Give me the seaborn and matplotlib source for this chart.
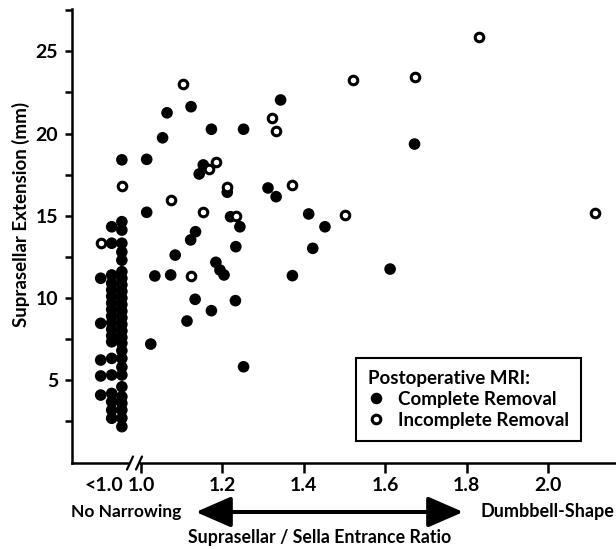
import matplotlib
matplotlib.use("Agg")
import matplotlib.pyplot as plt
import seaborn as sns
import pandas as pd
from matplotlib.patches import FancyArrowPatch
from matplotlib.lines import Line2D
from matplotlib.ticker import FixedLocator

sns.set_theme(style="white")
plt.rcParams['font.family'] = ['Lato', 'DejaVu Sans']
plt.rcParams['font.weight'] = 'bold'
plt.rcParams['text.color'] = 'black'
plt.rcParams['axes.labelcolor'] = 'black'
plt.rcParams['xtick.color'] = 'black'
plt.rcParams['ytick.color'] = 'black'

# ---------------- data ----------------
# Complete removal (filled circles): ratio, suprasellar extension (mm)
complete_x = [
    # "<1.0" group (no narrowing)
    0.901, 0.901, 0.901, 0.901, 0.901,
    0.928, 0.928, 0.928, 0.928, 0.928, 0.928, 0.928, 0.928, 0.928, 0.928,
    0.928, 0.928, 0.928, 0.928, 0.928, 0.928, 0.928, 0.928, 0.928,
    0.953, 0.953, 0.953, 0.953, 0.953, 0.953, 0.953, 0.953, 0.953, 0.953,
    0.953, 0.953, 0.953, 0.953, 0.953, 0.953, 0.953, 0.953, 0.953, 0.953,
    0.953, 0.953, 0.953, 0.953, 0.953, 0.953, 0.953, 0.953,
    # ratio >= 1.0
    1.343, 1.123, 1.064, 1.173, 1.252, 1.053, 1.014, 1.153, 1.143, 1.212,
    1.312, 1.332, 1.014, 1.220, 1.243, 1.134, 1.122, 1.233, 1.084, 1.184,
    1.194, 1.204, 1.034, 1.073, 1.372, 1.133, 1.232, 1.173, 1.113, 1.024,
    1.252, 1.672, 1.412, 1.452, 1.422, 1.612,
]
complete_y = [
    11.2, 8.46, 6.23, 5.26, 4.10,
    14.33, 13.33, 11.4, 10.9, 10.5, 10.1, 9.7, 9.3, 8.9, 8.5, 8.1, 7.7,
    7.34, 6.33, 5.32, 4.2, 3.19, 2.69, 3.7,
    18.4, 14.64, 14.13, 13.33, 12.8, 12.3, 11.2, 10.8, 10.4, 10.0, 9.6, 9.2,
    8.8, 8.4, 8.0, 7.6, 7.25, 6.8, 6.33, 5.8, 5.32, 4.6, 4.0, 3.6, 3.19,
    2.7, 2.18, 11.6,
    22.04, 21.63, 21.26, 20.26, 20.26, 19.74, 18.43, 18.09, 17.54, 16.43,
    16.69, 16.16, 15.21, 14.94, 14.33, 14.03, 13.53, 13.12, 12.61, 12.17,
    11.70, 11.40, 11.34, 11.40, 11.36, 9.92, 9.84, 9.23, 8.60, 7.20,
    5.82, 19.36, 15.11, 14.33, 13.02, 11.76,
]
# Incomplete removal (open circles)
incomplete_x = [0.901, 0.953, 1.102, 1.323, 1.332, 1.184, 1.167, 1.212, 1.372,
                1.073, 1.153, 1.233, 1.122, 1.522, 1.672, 1.501, 1.830, 2.115]
incomplete_y = [13.36, 16.81, 23.01, 20.96, 20.17, 18.25, 17.84, 16.77, 16.87,
                15.94, 15.21, 15.00, 11.34, 23.25, 23.45, 15.05, 25.88, 15.15]

x_ticks = [0.909, 1.0, 1.2, 1.4, 1.6, 1.8, 2.0]
x_tick_labels = ["<1.0", "1.0", "1.2", "1.4", "1.6", "1.8", "2.0"]
y_ticks = [5, 10, 15, 20, 25]
y_minor = [2.5, 7.5, 12.5, 17.5, 22.5, 27.5]
legend_title = "Postoperative MRI:"
legend_labels = ["Complete Removal", "Incomplete Removal"]

# ---------------- figure ----------------
W, H = 616, 549
fig = plt.figure(figsize=(W / 100, H / 100), dpi=100)
ax = fig.add_axes([72 / W, 1 - 462.5 / H, 544 / W, 454 / H])

df_c = pd.DataFrame({"ratio": complete_x, "ext": complete_y})
df_i = pd.DataFrame({"ratio": incomplete_x, "ext": incomplete_y})
sns.scatterplot(data=df_c, x="ratio", y="ext", ax=ax, s=70, color="black",
                edgecolor="none", linewidth=0, zorder=3, clip_on=False)
sns.scatterplot(data=df_i, x="ratio", y="ext", ax=ax, s=38, color="white",
                edgecolor="black", linewidth=2.2, zorder=4, clip_on=False)

ax.set_xlim(0.8305, 2.167)
ax.set_ylim(0, 27.6)
ax.set_xticks(x_ticks)
ax.set_xticklabels(x_tick_labels)
ax.set_yticks(y_ticks)
ax.yaxis.set_minor_locator(FixedLocator(y_minor))
ax.grid(False)

for side in ["top", "right"]:
    ax.spines[side].set_visible(False)
for side in ["left", "bottom"]:
    ax.spines[side].set_linewidth(1.8)
    ax.spines[side].set_color("black")

ax.tick_params(axis="y", which="both", direction="out", length=5, width=1.8,
               labelsize=14, pad=5, left=True)
ax.tick_params(axis="x", which="major", direction="out", length=7.5, width=1.8,
               labelsize=14, pad=3, bottom=True)
ax.xaxis.get_major_ticks()[0].tick1line.set_visible(False)
for lbl in ax.get_xticklabels() + ax.get_yticklabels():
    lbl.set_fontweight("bold")

ax.set_xlabel("")
ax.set_ylabel("Suprasellar Extension (mm)", fontsize=13.5, fontweight="bold")
ax.yaxis.set_label_coords(-0.078, 0.546)

# axis break marks
def fx(px):
    return px / W

def fy(py):
    return 1 - py / H

fig.add_artist(Line2D([fx(131), fx(137)], [fy(462.5), fy(462.5)], color="white",
                      lw=3.5, zorder=10))
for x0 in (127, 136):
    fig.add_artist(Line2D([fx(x0), fx(x0 + 6)], [fy(469.5), fy(456.5)],
                          color="black", lw=1.6, zorder=11))

# legend
handles = [
    Line2D([], [], marker="o", ls="none", markersize=8.3, markerfacecolor="black",
           markeredgewidth=0, color="black"),
    Line2D([], [], marker="o", ls="none", markersize=6.2, markerfacecolor="white",
           markeredgecolor="black", markeredgewidth=2.2),
]
leg = ax.legend(handles, legend_labels, title=legend_title, loc="lower left",
                bbox_to_anchor=(0.522, 0.047), frameon=True, fancybox=False,
                edgecolor="black", framealpha=1, fontsize=13.5, title_fontsize=13.5,
                alignment="left", handlelength=0.8, handletextpad=0.8,
                borderpad=0.65, labelspacing=0.22, borderaxespad=0)
leg.get_frame().set_linewidth(1.5)
leg.get_title().set_fontweight("bold")
for t in leg.get_texts():
    t.set_fontweight("bold")

# bottom annotations
fig.text(fx(71), fy(512), "No Narrowing", ha="left", va="center", fontsize=12.5,
         fontweight="bold")
fig.text(fx(614), fy(512), "Dumbbell-Shape", ha="right", va="center", fontsize=13,
         fontweight="bold")
fig.text(fx(320), fy(538), "Suprasellar / Sella Entrance Ratio", ha="center",
         va="center", fontsize=12.8, fontweight="bold")
arrow = FancyArrowPatch((fx(193), fy(512)), (fx(466), fy(512)),
                        transform=fig.transFigure,
                        arrowstyle="<|-|>,head_length=1.08,head_width=0.47",
                        mutation_scale=20, lw=2.9, color="black")
fig.add_artist(arrow)

fig.savefig("out.png", dpi=100)
